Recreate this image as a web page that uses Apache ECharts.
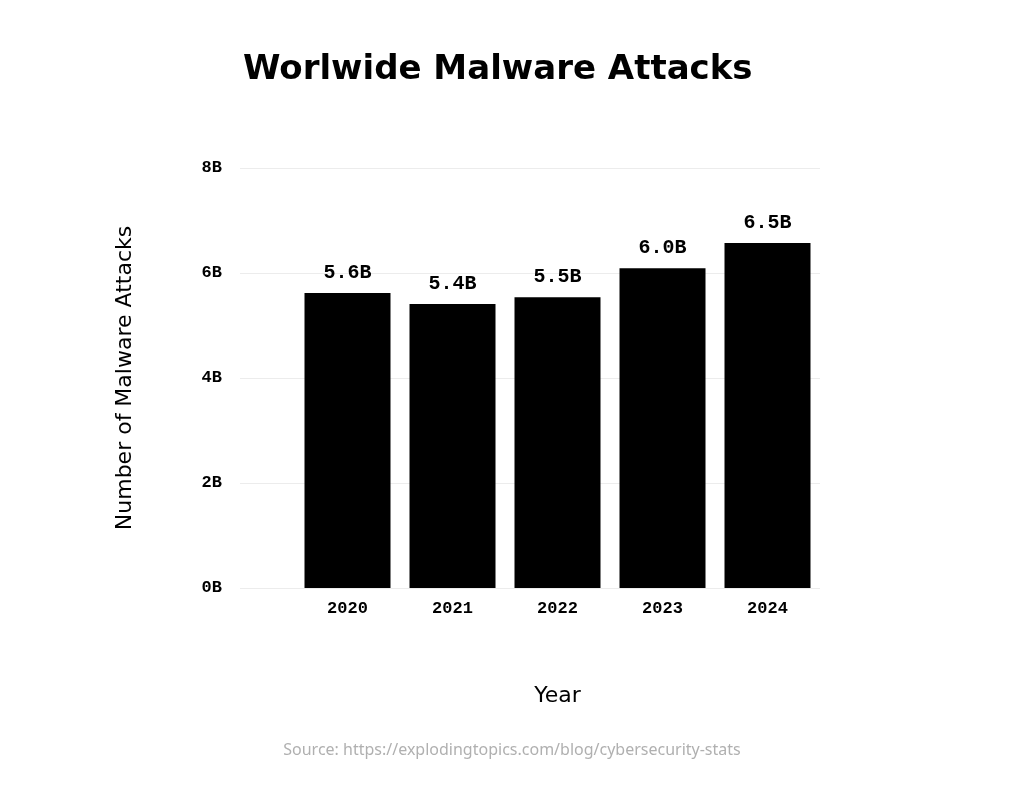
<!DOCTYPE html>
<html><head><meta charset="utf-8">
<script src="https://cdn.jsdelivr.net/npm/echarts@6/dist/echarts.min.js"></script>
<style>html,body{margin:0;padding:0;background:#fff}#c{width:1024px;height:811px}</style>
</head><body><div id="c"></div>
<script>
const years = ['2020','2021','2022','2023','2024'];
const attacks = [5.62, 5.41, 5.54, 6.09, 6.57];
const valueLabels = ['5.6B','5.4B','5.5B','6.0B','6.5B'];
const yTicks = [0,2,4,6,8];
const chart = echarts.init(document.getElementById('c'));
const mono = {fontFamily:'Liberation Mono', fontWeight:'bold', fontSize:17, color:'#000'};
chart.setOption({
  animation:false,
  title:[{text:'Worlwide Malware Attacks', left:238, top:48, textStyle:{fontFamily:'DejaVu Sans', fontWeight:'bold', fontSize:34, color:'#000'}},
    {text:'Source: https://explodingtopics.com/blog/cybersecurity-stats', left:'center', top:737, textStyle:{fontFamily:'Noto Sans', fontWeight:'normal', fontSize:16, color:'#b0b0b0'}}],
  grid:[{left:295, right:204, top:168, bottom:223},{left:240, right:204, top:168, bottom:223}],
  xAxis:[{type:'category', data:years, gridIndex:0, axisLine:{show:false}, axisTick:{show:false},
      axisLabel:Object.assign({margin:12}, mono),
      name:'Year', nameLocation:'middle', nameGap:97, nameTextStyle:{fontFamily:'DejaVu Sans', fontSize:22, color:'#000', padding:[0,0,0,0]}},
    {type:'category', data:[''], gridIndex:1, show:false}],
  yAxis:[{type:'value', gridIndex:0, min:0, max:8, interval:2, show:false},
    {type:'value', gridIndex:1, min:0, max:8, interval:2, axisLine:{show:false}, axisTick:{show:false},
      splitLine:{lineStyle:{color:'#ececec'}},
      axisLabel:Object.assign({margin:18, formatter:v=>yTicks.includes(v)?v+'B':''}, mono),
      name:'Number of Malware Attacks', nameLocation:'middle', nameGap:104,
      nameTextStyle:{fontFamily:'DejaVu Sans', fontSize:22, color:'#000'}}],
  series:[{type:'bar', xAxisIndex:0, yAxisIndex:0, data:attacks, barWidth:86, itemStyle:{color:'#000'},
    label:{show:true, position:'top', distance:10, formatter:p=>valueLabels[p.dataIndex], fontFamily:'Liberation Mono', fontWeight:'bold', fontSize:20, color:'#000'}, z:3}]
});
</script></body></html>
